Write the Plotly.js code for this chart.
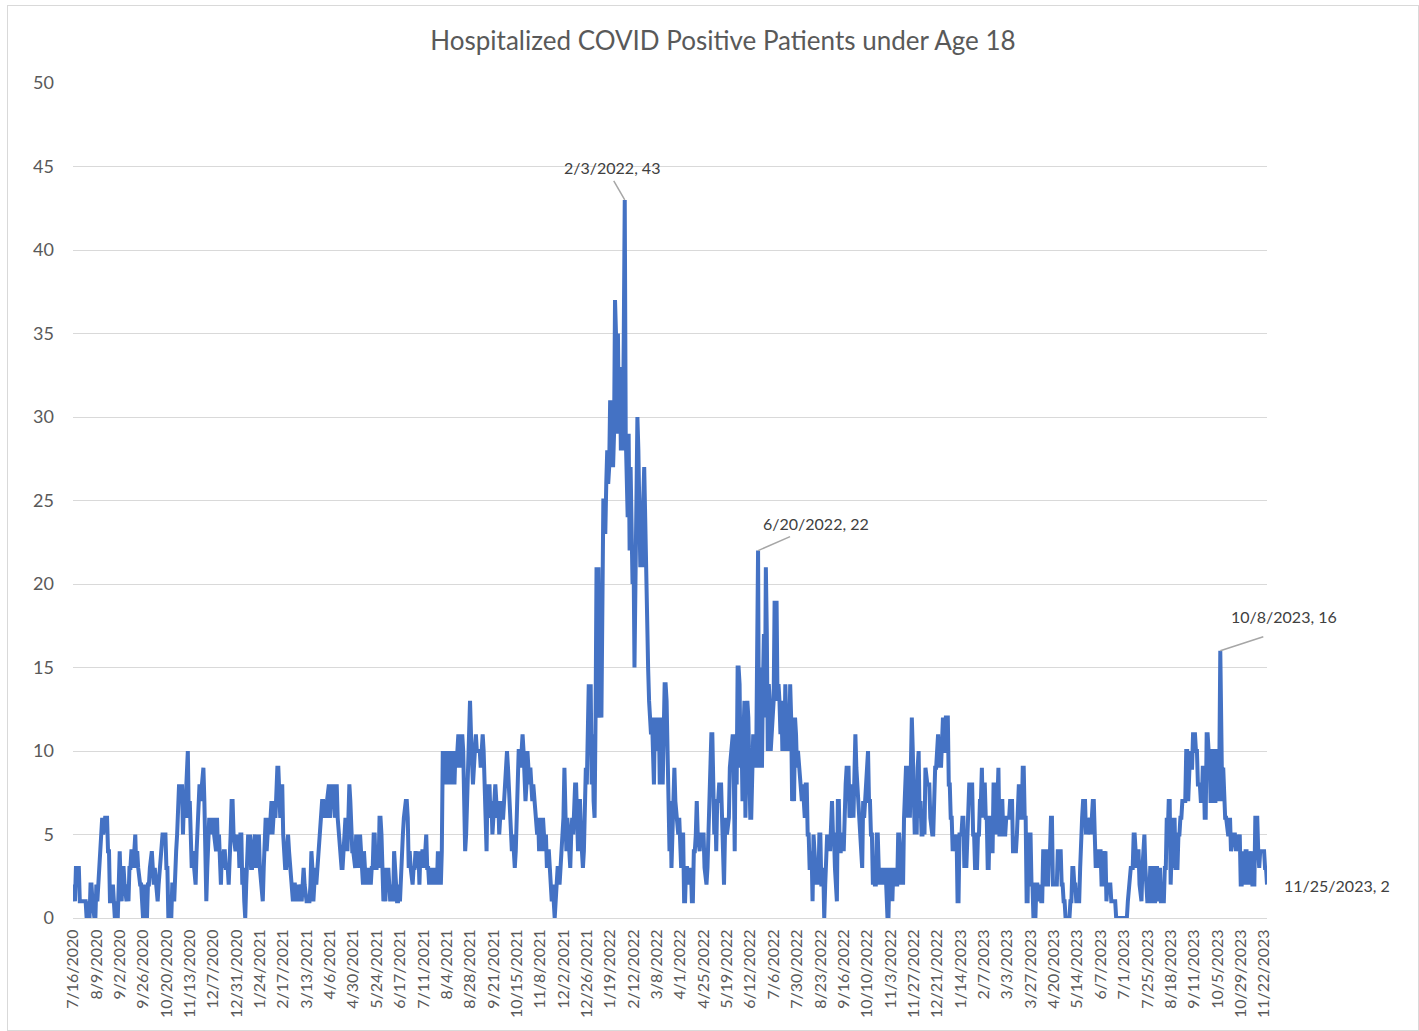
<!DOCTYPE html>
<html>
<head>
<meta charset="utf-8">
<script src="https://cdn.plot.ly/plotly-3.0.1.min.js"></script>
<style>
html,body{margin:0;padding:0;background:#fff;}
#chart{position:absolute;left:0;top:0;width:1419px;height:1031px;}
#frame{position:absolute;left:7px;top:5px;width:1410px;height:1024px;border:1px solid #d9d9d9;pointer-events:none;}
</style>
</head>
<body>
<div id="chart"></div>
<div id="frame"></div>
<script>
// Chart title
const chartTitle = 'Hospitalized COVID Positive Patients under Age 18';

// Category tick labels (every 24 days)
const tickLabels = ['7/16/2020','8/9/2020','9/2/2020','9/26/2020','10/20/2020','11/13/2020','12/7/2020','12/31/2020',
  '1/24/2021','2/17/2021','3/13/2021','4/6/2021','4/30/2021','5/24/2021','6/17/2021','7/11/2021','8/4/2021','8/28/2021',
  '9/21/2021','10/15/2021','11/8/2021','12/2/2021','12/26/2021','1/19/2022','2/12/2022','3/8/2022','4/1/2022','4/25/2022',
  '5/19/2022','6/12/2022','7/6/2022','7/30/2022','8/23/2022','9/16/2022','10/10/2022','11/3/2022','11/27/2022','12/21/2022',
  '1/14/2023','2/7/2023','3/3/2023','3/27/2023','4/20/2023','5/14/2023','6/7/2023','7/1/2023','7/25/2023','8/18/2023',
  '9/11/2023','10/5/2023','10/29/2023','11/22/2023'];

// Daily values, 7/16/2020 onward
const patientsPart1 = [ // 7/16/2020 - 5/23/2021
  2,1,1,3,3,3,3,1,1,1,1,1,1,1,0,0,1,0,2,2,1,0,0,0,
  2,1,2,4,4,6,6,5,6,6,6,6,4,4,1,1,1,2,0,0,1,0,0,2,
  4,2,1,3,3,2,1,1,2,1,3,3,4,4,3,5,5,3,4,3,2,2,2,0,
  0,2,0,1,0,2,2,3,4,4,3,2,3,2,1,1,2,3,4,5,5,5,5,5,
  3,3,0,0,1,0,2,2,1,4,4,5,8,8,7,8,8,5,7,6,8,10,10,6,
  7,5,3,4,3,3,2,4,6,7,8,7,8,9,9,7,4,1,3,6,6,5,6,5,
  6,5,4,4,6,4,5,3,2,4,3,4,4,3,3,3,2,3,5,7,7,5,4,4,
  5,4,5,3,5,5,2,3,1,0,2,5,5,4,5,3,3,4,5,5,3,4,3,5,
  3,2,1,1,3,6,6,4,6,6,5,7,7,5,6,7,6,8,9,9,8,6,7,8,
  5,3,3,3,4,5,4,3,2,2,1,2,2,1,2,2,1,2,2,1,3,3,2,1,
  1,1,1,1,2,4,3,1,2,3,2,3,4,5,5,6,7,7,6,7,6,7,8,8,
  6,8,8,7,8,6,8,8,6,5,4,3,3,3,4,5,6,5,4,6,8,7,5,4,
  4,3,3,5,4,5,3,5,4,3,2,4,2,2,3,2,3,2,2,3,3,5,5,3];

const patientsPart2 = [ // 5/24/2021 - 3/31/2022
  3,4,3,6,6,5,3,1,2,1,3,2,3,1,1,2,1,1,4,3,1,1,1,2,
  1,3,5,5,6,7,7,7,6,3,4,3,2,2,3,3,4,3,3,4,2,4,3,4,
  4,3,5,5,3,3,2,3,2,3,2,3,2,3,2,4,3,2,2,4,10,9,10,8,
  10,9,10,8,10,8,9,10,8,10,9,10,11,10,9,10,11,10,8,4,5,7,10,13,
  13,11,9,8,9,10,11,10,10,10,10,9,10,11,10,8,7,4,8,7,8,6,7,5,
  6,8,8,7,6,7,5,6,7,6,6,7,8,10,10,9,8,7,5,4,5,4,3,4,
  7,8,10,10,9,10,11,10,9,7,8,10,9,8,9,8,7,8,7,7,6,5,6,4,
  5,6,4,6,5,4,5,3,4,4,3,2,1,2,1,0,1,3,3,3,2,3,4,5,
  6,9,6,4,6,5,5,3,5,6,5,8,8,8,6,4,7,7,5,4,3,4,7,9,
  8,10,14,12,14,8,11,7,6,12,21,18,21,12,14,12,20,25,25,23,26,28,26,27,
  31,28,31,27,29,37,35,29,35,29,33,28,30,28,35,43,29,26,24,29,22,27,21,20,
  22,15,20,25,30,28,24,21,23,21,25,27,24,20,15,15,13,12,11,12,8,8,12,11,
  12,10,12,8,10,12,8,12,14,14,13,10,6,4,7,3,5,9,9,7,6,6,5,6];

const patientsPart3 = [ // 4/1/2022 - 2/6/2023
  5,3,5,5,1,1,3,3,2,3,2,3,1,1,4,4,5,7,5,4,4,5,5,5,
  5,3,2,2,3,5,9,10,11,11,6,5,7,4,7,7,8,8,8,6,2,2,5,6,
  5,6,6,9,10,11,11,9,4,11,8,15,15,14,9,11,7,11,13,6,9,13,12,6,
  6,6,9,11,9,11,9,15,22,9,15,13,9,14,17,12,21,17,10,14,13,10,12,12,
  13,19,17,19,13,14,13,11,13,10,11,10,14,12,10,12,10,14,12,7,9,7,12,11,
  9,10,9,8,8,7,8,6,6,8,8,5,5,3,3,4,1,5,4,4,2,3,2,5,
  5,2,2,3,0,2,5,5,4,5,4,7,7,5,5,3,1,1,7,7,4,4,5,5,4,
  8,8,9,9,9,6,7,6,8,6,8,11,9,8,6,5,5,3,3,7,6,7,8,10,10,
  7,7,5,5,2,3,2,2,5,5,3,2,3,2,2,3,2,3,1,0,0,3,1,3,1,
  3,2,3,2,2,5,5,4,2,3,2,6,9,9,9,6,9,6,9,12,10,6,5,6,5,
  9,10,6,7,5,5,6,5,9,8,8,8,8,6,5,5,5,8,9,9,11,11,9,10,9,
  12,12,10,10,12,12,12,8,8,6,6,4,5,4,5,5,1,1,5,
  5,5,6,6,3,5,3,5,8,8,8,8,8,5,5,3,3,3,5,5,7,7,9,6];

const patientsPart4 = [ // 2/7/2023 - 11/25/2023
  8,8,6,6,3,3,6,6,4,4,8,8,8,5,9,9,5,5,7,7,5,5,5,6,
  6,6,6,7,7,7,4,4,4,4,5,8,8,6,6,6,9,9,6,6,1,1,5,5,
  5,2,2,0,0,0,2,2,1,2,2,1,1,4,4,4,2,2,2,4,4,6,6,2,
  2,2,2,2,4,4,4,4,2,2,1,1,0,0,0,0,0,1,1,3,3,2,2,1,
  1,1,1,3,6,6,7,7,7,5,6,5,6,6,5,7,7,7,4,3,4,3,4,4,
  4,2,2,4,3,4,1,2,2,2,2,1,1,1,1,1,0,0,0,0,0,0,0,0,
  0,0,0,0,1,2,2,3,3,3,5,5,4,3,4,4,2,1,1,3,5,5,3,1,
  1,1,1,3,3,3,1,1,1,3,3,1,3,3,1,1,1,1,3,3,6,5,7,7,
  2,6,6,3,6,3,3,3,5,5,6,6,7,7,7,7,10,10,7,10,10,9,9,11,
  11,11,10,10,8,8,8,7,7,9,9,6,6,11,11,10,10,7,7,10,10,7,7,10,
  10,7,9,16,7,7,9,7,6,6,5,5,5,6,4,5,5,5,5,4,5,4,5,5,
  2,2,4,2,2,4,4,2,4,2,4,4,2,2,2,6,6,6,4,3,4,4,4,4,
  4,3,3,2];

// Dates that carry a data label
const labelledDates = ['2/3/2022','6/20/2022','10/8/2023','11/25/2023'];

const values = [].concat(patientsPart1, patientsPart2, patientsPart3, patientsPart4);
const dates = values.map(function(v,i){
  const d = new Date(2020, 6, 16 + i);
  return (d.getMonth()+1) + '/' + d.getDate() + '/' + d.getFullYear();
});

// label placement (pixels from the point) and leader line ends
const labelStyle = [
  {xs:-13, ys:32, lead:[-11,19]},
  {xs:58, ys:27, lead:[32,14]},
  {xs:64, ys:34, lead:[43,14]},
  {xs:70, ys:-1, lead:null}
];

const font = 'Lato, "Open Sans", sans-serif';
const annotations = [];
const shapes = [];
labelledDates.forEach(function(ds, k){
  const idx = dates.indexOf(ds);
  const st = labelStyle[k];
  annotations.push({
    x: idx, y: values[idx], xref:'x', yref:'y',
    text: ds + ', ' + values[idx], showarrow:false,
    xshift: st.xs, yshift: st.ys,
    font:{family:font, size:16, color:'#404040'}
  });
  if (st.lead) {
    shapes.push({
      type:'line', xref:'x', yref:'y', xsizemode:'pixel', ysizemode:'pixel',
      xanchor: idx, yanchor: values[idx],
      x0:0, y0:0, x1:st.lead[0], y1:st.lead[1],
      line:{color:'#a6a6a6', width:1.5}
    });
  }
});

const trace = {
  type:'scatter', mode:'lines',
  x: dates.map(function(d,i){return i;}),
  y: values,
  line:{color:'#4472C4', width:4},
  hoverinfo:'skip'
};

const tickIdx = tickLabels.map(function(t){return dates.indexOf(t);});

const layout = {
  width:1419, height:1031,
  margin:{l:73, r:152, t:83, b:113, pad:0},
  paper_bgcolor:'#ffffff', plot_bgcolor:'#ffffff',
  showlegend:false,
  title:{text:chartTitle, x:0.5095, xref:'container', xanchor:'center', y:0.960, yref:'container', yanchor:'middle',
    font:{family:font, size:26, color:'#595959'}},
  xaxis:{
    type:'linear', range:[0, values.length-1], autorange:false,
    tickmode:'array', tickvals:tickIdx, ticktext:tickLabels,
    tickangle:-90, ticks:'', showgrid:false, zeroline:false,
    showline:true, linecolor:'#d9d9d9', linewidth:1,
    tickfont:{family:font, size:16, color:'#595959'},
    automargin:false, ticklabelstandoff:4
  },
  yaxis:{
    range:[0,50], autorange:false, dtick:5, tick0:0,
    showgrid:true, gridcolor:'#d9d9d9', gridwidth:1,
    zeroline:false, showline:false, ticks:'',
    tickfont:{family:font, size:18, color:'#595959'},
    automargin:false, ticklabelstandoff:18
  },
  annotations:annotations,
  shapes:shapes
};

Plotly.newPlot('chart', [trace], layout, {displayModeBar:false, staticPlot:true});
</script>
</body>
</html>
